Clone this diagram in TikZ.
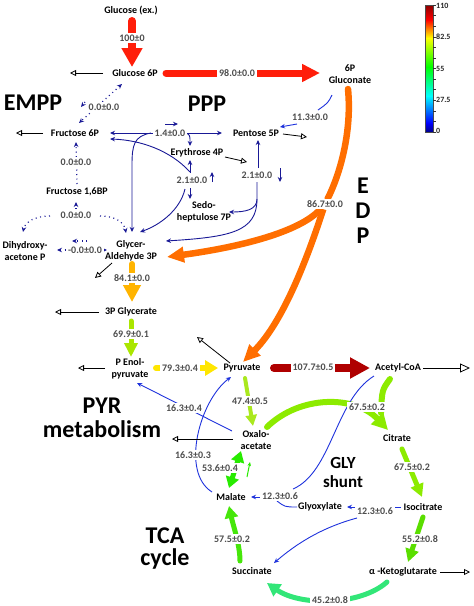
\documentclass[tikz,border=0pt]{standalone}
\usepackage{fontspec}
\setmainfont{Carlito}
\usetikzlibrary{arrows.meta,calc}
\pgfdeclarelayer{bg}
\pgfsetlayers{bg,main}
\definecolor{fR}{RGB}{255,30,10}
\definecolor{fOr}{RGB}{255,110,0}
\definecolor{fAm}{RGB}{255,180,0}
\definecolor{fYe}{RGB}{255,230,0}
\definecolor{fYg}{RGB}{170,230,0}
\definecolor{fYgb}{RGB}{170,232,30}
\definecolor{fDr}{RGB}{175,0,0}
\definecolor{fLg}{RGB}{140,235,0}
\definecolor{fGa}{RGB}{90,222,0}
\definecolor{fGb}{RGB}{40,235,0}
\definecolor{fGc}{RGB}{70,230,10}
\definecolor{fTe}{RGB}{50,230,120}
\definecolor{pppb}{RGB}{25,25,150}
\definecolor{lb}{RGB}{30,50,220}
\definecolor{numg}{RGB}{77,77,77}
\definecolor{cba}{RGB}{0,0,140}
\definecolor{cbb}{RGB}{0,0,255}
\definecolor{cbc}{RGB}{0,255,255}
\definecolor{cbd}{RGB}{0,255,0}
\definecolor{cbe}{RGB}{255,255,0}
\definecolor{cbf}{RGB}{255,0,0}
\definecolor{cbg}{RGB}{140,0,0}
\tikzset{
  met/.style={font=\bfseries\fontsize{10}{12}\selectfont, align=center, inner sep=1pt},
  num/.style={font=\bfseries\fontsize{10}{12}\selectfont, text=numg, fill=white, inner xsep=2pt, inner ysep=1.5pt},
  bigt/.style={font=\bfseries\fontsize{24}{24}\selectfont, inner sep=0pt, anchor=base},
  midt/.style={font=\bfseries\fontsize{17}{17}\selectfont, inner sep=0pt, anchor=base},
  cbl/.style={font=\bfseries\fontsize{8}{9}\selectfont, text=black!85, anchor=west, inner sep=0.5pt},
  pp/.style={draw=pppb, line width=0.9pt, -{Stealth[length=5pt,width=4.5pt]}},
  ppd/.style={draw=pppb, line width=0.9pt, {Stealth[length=5pt,width=4.5pt]}-{Stealth[length=5pt,width=4.5pt]}},
  bl/.style={draw=lb, line width=0.9pt, -{Stealth[length=5pt,width=4.5pt]}},
  dt/.style={draw=pppb, line width=1.2pt, dash pattern=on 1pt off 3.5pt, -{Stealth[length=5pt,width=4.5pt]}},
  dtd/.style={draw=pppb, line width=1.2pt, dash pattern=on 1pt off 3.5pt, {Stealth[length=5pt,width=4.5pt]}-{Stealth[length=5pt,width=4.5pt]}},
  sink/.style={draw=black, line width=0.8pt, -{Triangle[open,length=6pt,width=6pt]}},
}
\begin{document}
\begin{tikzpicture}[x=1pt,y=-1pt]
\useasboundingbox (0,0) rectangle (474,606);
% metabolites
\node[met] (gluex) at (131,11) {Glucose (ex.)};
\node[met] (g6p) at (135,73) {Glucose 6P};
\node[met] (pg) at (350,74) {6P\\Gluconate};
\node[met] (f6p) at (75,133) {Fructose 6P};
\node[met] (p5p) at (256,133) {Pentose 5P};
\node[met] (e4p) at (197,153) {Erythrose 4P};
\node[met] (s7p) at (204,212) {Sedo-\\heptulose 7P};
\node[met] (fbp) at (77,192) {Fructose 1,6BP};
\node[met] (dhap) at (25,251) {Dihydroxy-\\acetone P};
\node[met] (gap) at (131,251) {Glycer-\\Aldehyde 3P};
\node[met] (pga) at (131,312) {3P Glycerate};
\node[met] (pep) at (130,369) {P Enol-\\pyruvate};
\node[met] (pyr) at (242,368) {Pyruvate};
\node[met] (accoa) at (398,368) {Acetyl-CoA};
\node[met] (oaa) at (256,440) {Oxalo-\\acetate};
\node[met] (cit) at (397,438) {Citrate};
\node[met] (mal) at (231,497) {Malate};
\node[met] (glx) at (320,507) {Glyoxylate};
\node[met] (icit) at (423,507) {Isocitrate};
\node[met] (suc) at (252,571) {Succinate};
\node[met] (akg) at (403,572) {α -Ketoglutarate};
% pathway titles
\node[bigt] (tempp) at (33,110) {EMPP};
\node[bigt] (tppp) at (207,111) {PPP};
\node[bigt] (te) at (363,193) {E};
\node[bigt] (td) at (363,218) {D};
\node[bigt] (tp) at (363,243) {P};
\node[bigt] (tpyra) at (102,413) {PYR};
\node[bigt] (tpyrb) at (102,437) {metabolism};
\node[midt] (tglya) at (343,468) {GLY};
\node[midt] (tglyb) at (343,487) {shunt};
\node[bigt] (ttcaa) at (165,543) {TCA};
\node[bigt] (ttcab) at (165,565) {cycle};
% flux labels
\node[num] (n100) at (132,38) {100±0};
\node[num] (n98) at (237,73) {98.0±0.0};
\node[num] (n00a) at (104,107) {0.0±0.0};
\node[num] (n14) at (170,133) {1.4±0.0};
\node[num] (n113) at (310,117) {11.3±0.0};
\node[num] (n00b) at (76,162) {0.0±0.0};
\node[num] (n21a) at (192,180) {2.1±0.0};
\node[num] (n21b) at (257,175) {2.1±0.0};
\node[num] (n00c) at (76,215) {0.0±0.0};
\node[num] (n00d) at (85,250) {-0.0±0.0};
\node[num] (n867) at (325,204) {86.7±0.0};
\node[num] (n841) at (132,278) {84.1±0.0};
\node[num] (n699) at (131,334) {69.9±0.1};
\node[num] (n793) at (180,368) {79.3±0.4};
\node[num] (n1077) at (313,367) {107.7±0.5};
\node[num] (n474) at (250,401) {47.4±0.5};
\node[num] (n163a) at (184,408) {16.3±0.4};
\node[num] (n163b) at (193,455) {16.3±0.3};
\node[num] (n536) at (220,468) {53.6±0.4};
\node[num] (n675a) at (367,407) {67.5±0.2};
\node[num] (n675b) at (412,467) {67.5±0.2};
\node[num] (n123a) at (280,496) {12.3±0.6};
\node[num] (n123b) at (375,511) {12.3±0.6};
\node[num] (n552) at (420,539) {55.2±0.8};
\node[num] (n575) at (232,539) {57.5±0.2};
\node[num] (n452) at (330,600) {45.2±0.8};
% free ends and junctions
\coordinate (sgsix) at (70,73);
\coordinate (sfsix) at (16,133);
\coordinate (spfive) at (307,137);
\coordinate (sefour) at (247,162);
\coordinate (sgap) at (95,278);
\coordinate (spga) at (55,312);
\coordinate (spep) at (78,368);
\coordinate (spyr) at (197,337);
\coordinate (sacc) at (470,368);
\coordinate (soaa) at (172,439);
\coordinate (sakg) at (470,572);
\coordinate (jfa) at (151,133);
\coordinate (jfb) at (186,133);
\coordinate (jtb) at (257,199);
% colour bar
\shade[bottom color=cba, top color=cbb] (425,132) rectangle (433,122.7);
\shade[bottom color=cbb, top color=cbc] (425,123) rectangle (433,95.7);
\shade[bottom color=cbc, top color=cbd] (425,96) rectangle (433,66.7);
\shade[bottom color=cbd, top color=cbe] (425,67) rectangle (433,37.7);
\shade[bottom color=cbe, top color=cbf] (425,38) rectangle (433,19.7);
\shade[bottom color=cbf, top color=cbg] (425,20) rectangle (433,5);
\draw[draw=black!70, line width=0.4pt] (425,5) rectangle (433,132);
\foreach \i in {0,...,12} \draw[black!80, line width=0.5pt] (433,{132-\i*127/12}) -- ++(2.5,0);
\node[cbl] (cbz) at (435.5,131) {0};
\node[cbl] (cbq) at (435.5,100) {27.5};
\node[cbl] (cbh) at (435.5,69) {55};
\node[cbl] (cbt) at (435.5,37) {82.5};
\node[cbl] (cbm) at (435.5,6) {110};

\begin{pgfonlayer}{bg}
% glycolysis main fluxes
\draw[fR, line width=8pt, line cap=round, -{Triangle[length=19pt,width=20pt]}] ($(gluex)+(1,10)$) -- ($(g6p)+(-3,-6)$);
\draw[fR, line width=7pt, line cap=round, -{Triangle[length=18pt,width=17pt]}] ($(g6p)+(31,0)$) -- ($(pg)+(-30,-1)$);
\draw[fOr, line width=6.5pt, line cap=round] ($(pg)+(-2,15)$) .. controls (352,130) and (341,172) .. (n867);
\draw[fOr, line width=6.5pt, -{Triangle[length=17pt,width=15pt]}] (n867) .. controls (300,232) and (240,247) .. ($(gap)+(36,6)$);
\draw[fOr, line width=6.5pt, -{Triangle[length=17pt,width=15pt]}] (n867) .. controls (310,250) and (285,320) .. ($(pyr)+(1,-6)$);
\draw[fAm, line width=6pt, line cap=round, -{Triangle[length=17pt,width=17pt]}] ($(gap)+(1,13)$) -- ($(pga)+(1,-10)$);
\draw[fYg, line width=5pt, line cap=round, -{Triangle[length=14pt,width=13pt]}] ($(pga)+(0,9)$) -- ($(pep)+(1,-12)$);
\draw[fYe, line width=6pt, line cap=round, -{Triangle[length=13pt,width=15pt]}] ($(pep)+(26,-1)$) -- ($(pyr)+(-24,0)$);
\draw[fDr, line width=8pt, line cap=round, -{Triangle[length=20pt,width=20pt]}] ($(pyr)+(32,0)$) -- ($(accoa)+(-28,0)$);
% TCA fluxes
\draw[fYgb, line width=4pt, line cap=round, -{Triangle[length=11pt,width=11pt]}] ($(pyr)+(3,10)$) -- ($(oaa)+(-3,-14)$);
\draw[fGb, line width=5pt, {Triangle[length=11pt,width=13pt]}-{Triangle[length=11pt,width=13pt]}] ($(oaa)+(-15,11)$) -- ($(mal)+(-2,-9)$);
\draw[fGb, line width=1pt, -{Stealth[length=4pt,width=3.5pt]}] ($(n536)+(27,9)$) -- ($(n536)+(30,-6)$);
\draw[fLg, line width=6pt, line cap=round, -{Triangle[length=16pt,width=16pt]}] ($(oaa)+(11,-13)$) .. controls (300,395) and (355,395) .. ($(cit)+(-9,-8)$);
\draw[fLg, line width=6pt, line cap=round] ($(accoa)+(-8,11)$) .. controls (382,390) .. ($(n675a)+(14,6)$);
\draw[fLg, line width=5pt, line cap=round, -{Triangle[length=13pt,width=13pt]}] ($(cit)+(5,11)$) -- ($(icit)+(-1,-10)$);
\draw[fGa, line width=5pt, line cap=round, -{Triangle[length=13pt,width=13pt]}] ($(icit)+(0,10)$) -- ($(akg)+(5,-10)$);
\draw[fTe, line width=5pt, line cap=round, -{Triangle[length=13pt,width=14pt]}] ($(akg)+(-16,10)$) .. controls (360,606) and (300,606) .. ($(suc)+(15,12)$);
\draw[fGc, line width=5pt, line cap=round, -{Triangle[length=12pt,width=13pt]}] ($(suc)+(-12,-10)$) .. controls (240,545) and (233,525) .. ($(mal)+(-2,9)$);
% blue thin reactions
\draw[bl] ($(oaa)+(-24,-9)$) -- ($(pep)+(7,14)$);
\draw[bl] ($(mal)+(-19,-5)$) .. controls (180,472) and (200,400) .. ($(pyr)+(-11,9)$);
\draw[bl, -] ($(accoa)+(-24,8)$) .. controls (335,400) and (332,472) .. ($(n123a)+(13,-7)$);
\draw[bl] ($(n123a)+(-16,1)$) -- ($(mal)+(20,0)$);
\draw[bl, -] ($(glx)+(-23,0)$) .. controls (285,507) .. ($(n123a)+(-3,5)$);
\draw[bl] ($(icit)+(-22,0)$) -- ($(glx)+(27,0)$);
\draw[bl] ($(n123b)+(-18,7)$) .. controls (320,528) and (295,545) .. ($(suc)+(22,-8)$);
\draw[bl, -] ($(pg)+(-18,21)$) .. controls (328,103) .. ($(n113)+(8,-7)$);
\draw[bl] ($(n113)+(-13,7)$) -- ($(p5p)+(24,-6)$);
% PPP
\draw[ppd] ($(f6p)+(35,0)$) -- ($(p5p)+(-34,0)$);
\draw[pp] ($(n14)+(-5,-9)$) -- ($(n14)+(8,-9)$);
\draw[pp] (jfa) .. controls (134,136) and (132,145) .. (132,165) -- ($(gap)+(1,-19)$);
\draw[pp] (jfb) .. controls (190,135) .. ($(e4p)+(-7,-7)$);
\draw[pp] ($(n21a)+(-2,-8)$) .. controls (170,150) and (140,140) .. ($(f6p)+(35,6)$);
\draw[pp] ($(n21a)+(-2,-7)$) -- ($(e4p)+(-7,7)$);
\draw[pp] ($(n21a)+(-2,8)$) -- ($(s7p)+(-14,-13)$);
\draw[pp] ($(n21a)+(20,2)$) -- ($(n21a)+(20,-8)$);
\draw[pp] ($(n21a)+(-7,9)$) .. controls (180,210) and (160,225) .. ($(gap)+(9,-19)$);
\draw[pp] ($(n21b)+(1,-7)$) -- ($(p5p)+(2,7)$);
\draw[pp] ($(n21b)+(23,-7)$) -- ($(n21b)+(23,7)$);
\draw[pp] ($(n21b)+(0,7)$) -- (jtb) .. controls (257,210) and (245,212) .. ($(s7p)+(25,0)$);
\draw[pp] (jtb) .. controls (257,232) and (230,237) .. ($(gap)+(35,-10)$);
% EMPP dotted
\draw[dtd] ($(g6p)+(-13,11)$) -- ($(f6p)+(4,-10)$);
\draw[dt] ($(n00a)+(-19,-5)$) -- ($(n00a)+(-23,0)$);
\draw[dt] ($(fbp)+(0,-8)$) -- ($(f6p)+(1,9)$);
\draw[dt] ($(n00c)+(0,-6)$) -- ($(fbp)+(-1,10)$);
\draw[dt] ($(n00c)+(-26,1)$) .. controls (35,216) and (25,222) .. ($(dhap)+(-2,-19)$);
\draw[dt] ($(n00c)+(24,1)$) .. controls (115,216) and (124,222) .. ($(gap)+(-5,-18)$);
\draw[dtd] ($(dhap)+(32,-1)$) -- ($(gap)+(-24,-1)$);
\draw[dt] ($(n00d)+(2,-9)$) -- ($(n00d)+(-13,-9)$);
% outflows
\draw[sink] ($(g6p)+(-32,0)$) -- (sgsix);
\draw[sink] ($(f6p)+(-32,0)$) -- (sfsix);
\draw[sink] ($(p5p)+(27,1)$) -- (spfive);
\draw[sink] ($(e4p)+(28,4)$) -- (sefour);
\draw[sink] ($(gap)+(-19,12)$) -- (sgap);
\draw[sink] ($(pga)+(-32,0)$) -- (spga);
\draw[sink] ($(pep)+(-25,-1)$) -- (spep);
\draw[sink] ($(pyr)+(-12,-5)$) -- (spyr);
\draw[sink, -{Triangle[open,length=10pt,width=9pt]}] ($(accoa)+(25,0)$) -- (sacc);
\draw[sink] ($(oaa)+(-23,-1)$) -- (soaa);
\draw[sink] ($(akg)+(37,0)$) -- (sakg);
\end{pgfonlayer}
\end{tikzpicture}
\end{document}
